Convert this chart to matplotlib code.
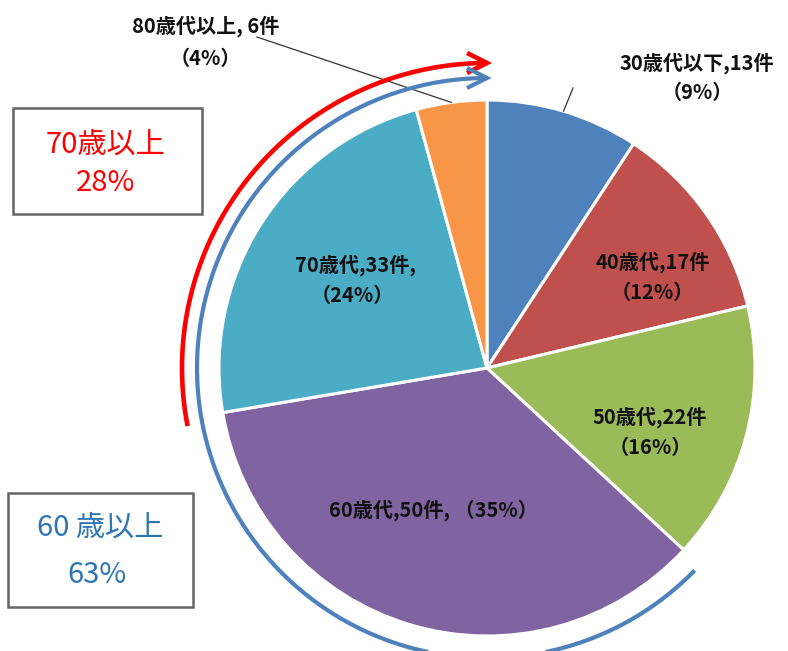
import numpy as np
import matplotlib
matplotlib.use("Agg")
import matplotlib.pyplot as plt
from matplotlib.patches import Rectangle

plt.rcParams['font.family'] = ['Noto Sans CJK JP', 'DejaVu Sans']

# ---- data ----
categories = ["30歳代以下", "40歳代", "50歳代", "60歳代", "70歳代", "80歳代以上"]
counts = [13, 17, 22, 50, 33, 6]
pcts = [9, 12, 16, 35, 24, 4]
colors = ["#4F81BD", "#C0504D", "#9BBB59", "#8064A2", "#4BACC6", "#F79646"]
group_labels = ["70歳以上", "60 歳以上"]
group_pcts = ["28%", "63%"]
group_start_idx = [4, 3]   # groups start at 70歳代 / 60歳代 and run to the end

W, H = 788, 651
fig = plt.figure(figsize=(W / 100, H / 100), dpi=100)
ax = fig.add_axes([0, 0, 1, 1])

def Y(y):
    return H - y

cx, cy, R = 487, Y(368), 268
ax.pie(counts, colors=colors, startangle=90, counterclock=False,
       center=(cx, cy), radius=R,
       wedgeprops=dict(edgecolor="white", linewidth=2.2))
ax.set_xlim(0, W)
ax.set_ylim(0, H)
ax.set_aspect("equal")
ax.axis("off")

total = sum(counts)
cum = np.concatenate([[0], np.cumsum(counts)])

def ang(frac):
    return 90 - 360 * frac

lab_kw = dict(ha="center", va="center", fontsize=14.5, fontweight="bold", color="#111111")

# labels inside slices
inside_pos = {1: [(653, 262), (652, 292)],
              2: [(650, 417), (650, 447)],
              4: [(355, 265), (352, 295)]}
for i, pos in inside_pos.items():
    ax.text(pos[0][0], Y(pos[0][1]), f"{categories[i]},{counts[i]}件" + ("," if i == 4 else ""), **lab_kw)
    ax.text(pos[1][0], Y(pos[1][1]), f"（{pcts[i]}%）", **lab_kw)

ax.text(433, Y(510), f"{categories[3]},{counts[3]}件, （{pcts[3]}%）", **lab_kw)

# outside labels with leader lines
ax.text(697, Y(63), f"{categories[0]},{counts[0]}件", **lab_kw)
ax.text(697, Y(92), f"（{pcts[0]}%）", **lab_kw)
ax.text(206, Y(26), f"{categories[5]}, {counts[5]}件", **lab_kw)
ax.text(205, Y(58), f"（{pcts[5]}%）", **lab_kw)

def slice_mid_point(i, r):
    a = np.deg2rad(ang((cum[i] + cum[i + 1]) / 2 / total))
    return cx + r * np.cos(a), cy + r * np.sin(a)

px, py = slice_mid_point(0, R)
ax.plot([573, px], [Y(88), py], color="#333333", lw=0.9)
px, py = slice_mid_point(5, R)
ax.plot([257, px], [Y(37), py], color="#333333", lw=0.9)

# group arcs with arrows
def arc_arrow(start_idx, radius, color, lw, ext_deg):
    a0 = ang(cum[start_idx] / total) + ext_deg
    a1 = ang(1.0)
    th = np.deg2rad(np.linspace(a0, a1, 400))
    xs = cx + radius * np.cos(th)
    ys = cy + radius * np.sin(th)
    ax.plot(xs, ys, color=color, lw=lw, solid_capstyle="butt", zorder=5)
    # chevron head at end, direction clockwise
    tip = np.array([xs[-1], ys[-1]])
    t = np.array([np.sin(th[-1]), -np.cos(th[-1])])
    n = np.array([-t[1], t[0]])
    L, Wd = 20, 10
    p1 = tip - L * t + Wd * n
    p2 = tip - L * t - Wd * n
    ax.plot([p1[0], tip[0], p2[0]], [p1[1], tip[1], p2[1]], color=color, lw=lw,
            solid_joinstyle="miter", solid_capstyle="butt", zorder=5)

arc_arrow(group_start_idx[0], 305, "#FF0000", 3.3, 1.4)
arc_arrow(group_start_idx[1], 290, "#4F81BD", 3.0, -1.5)

# boxes
box_kw = dict(facecolor="white", edgecolor="#666666", linewidth=1.8, zorder=6)
ax.add_patch(Rectangle((13, Y(214)), 189, 106, **box_kw))
ax.add_patch(Rectangle((8, Y(607)), 185, 114, **box_kw))

ax.text(106, Y(145), group_labels[0], ha="center", va="center", fontsize=21, color="#FF0000", zorder=7)
ax.text(106, Y(183), group_pcts[0], ha="center", va="center", fontsize=21, color="#FF0000", zorder=7)
ax.text(100, Y(528), group_labels[1], ha="center", va="center", fontsize=21, color="#2E75B6", zorder=7)
ax.text(97, Y(575), group_pcts[1], ha="center", va="center", fontsize=21, color="#2E75B6", zorder=7)

fig.savefig("out.png", dpi=100, facecolor="white")
